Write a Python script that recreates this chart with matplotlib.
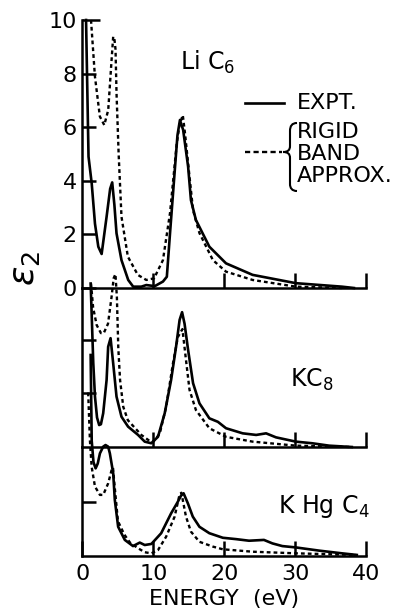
import matplotlib
matplotlib.use('Agg')
import matplotlib.pyplot as plt
from matplotlib.path import Path
from matplotlib.patches import PathPatch
from matplotlib.lines import Line2D

# ---------------- data (energy in eV, epsilon_2) ----------------
lic6_expt_E = [0.5, 0.85, 1.3, 1.76, 2.23, 2.7, 3.4, 3.9, 4.19, 4.5, 4.8, 5.5, 6.45, 7.15, 8.3,
               9.0, 10.2, 11.35, 11.9, 12.35, 13.05, 13.4, 13.75, 14.2, 14.9, 15.3, 16.0, 17.9,
               20.25, 24.0, 30.1, 36.6, 38.3]
lic6_expt_eps = [10.0, 4.9, 3.9, 2.4, 1.54, 1.27, 2.66, 3.7, 3.94, 3.1, 2.04, 1.04, 0.3, 0.05, 0.05,
                 0.11, 0.07, 0.24, 0.42, 2.05, 4.5, 5.7, 6.27, 5.9, 4.53, 3.28, 2.54, 1.54,
                 0.92, 0.49, 0.18, 0.05, 0.0]
lic6_rba_E = [1.2, 1.75, 2.45, 3.07, 3.63, 4.1, 4.33, 4.5, 4.66, 4.8, 5.1, 5.5, 6.4, 7.8, 9.0,
              10.1, 11.35, 12.35, 13.3, 13.7, 14.15, 14.45, 15.1, 15.6, 16.5, 18.4, 20.25, 24.0,
              30.1, 36.6]
lic6_rba_eps = [10.0, 7.9, 6.4, 6.08, 6.64, 8.5, 9.38, 9.3, 8.9, 7.27, 5.0, 2.66, 1.17, 0.49, 0.3,
                0.36, 1.04, 2.8, 5.4, 6.1, 6.45, 5.8, 4.15, 2.9, 2.05, 1.04, 0.61, 0.3,
                0.05, 0.0]

kc8_expt_E = [1.15, 1.29, 1.52, 1.76, 2.05, 2.35, 2.6, 2.92, 3.4, 3.62, 3.96, 4.33, 4.8, 5.5, 6.43,
              7.84, 8.78, 9.7, 10.65, 11.6, 12.5, 13.2, 13.7, 14.05, 14.4, 14.9, 15.6, 16.5, 17.9,
              19.1, 20.25, 22.6, 24.5, 25.9, 27.3, 30.1, 32.4, 34.8, 38.0]
kc8_expt_eps = [6.1, 4.99, 3.13, 1.88, 1.1, 0.82, 0.85, 1.26, 2.5, 3.74, 4.06, 3.12, 1.88, 1.13, 0.76,
                0.45, 0.2, 0.14, 0.38, 1.26, 2.5, 3.74, 4.74, 5.03, 4.6, 3.62, 2.38, 1.63, 1.07,
                0.94, 0.7, 0.51, 0.45, 0.51, 0.36, 0.2, 0.14, 0.05, 0.0]
kc8_rba_E = [1.2, 1.5, 2.0, 2.6, 3.0, 3.6, 4.1, 4.4, 4.65, 4.85, 5.05, 5.3, 5.75, 6.4, 8.3, 9.6,
             10.0, 10.9, 11.8, 12.75, 13.45, 14.1, 14.6, 15.1, 16.0, 17.9, 20.25, 24.0, 30.1, 38.0]
kc8_rba_eps = [6.1, 5.2, 4.55, 4.25, 4.25, 4.6, 5.6, 6.3, 6.45, 5.6, 3.7, 2.5, 1.5, 1.0, 0.45, 0.2,
               0.2, 0.5, 1.5, 3.1, 4.1, 4.4, 3.25, 2.13, 1.38, 0.7, 0.38, 0.2, 0.05, 0.0]

khgc4_expt_E = [1.15, 1.3, 1.55, 1.85, 2.15, 2.46, 2.92, 3.25, 3.62, 3.86, 4.33, 4.56, 5.03, 5.97,
                7.13, 8.08, 8.78, 9.72, 11.1, 12.5, 13.4, 13.9, 14.26, 14.86, 15.56, 16.5, 17.9,
                19.8, 21.65, 23.5, 25.6, 26.8, 28.2, 30.1, 33.4, 36.6, 38.7]
khgc4_expt_eps = [7.5, 4.3, 3.5, 3.27, 3.45, 3.83, 4.08, 4.14, 4.08, 3.83, 3.09, 2.09, 1.09, 0.6,
                  0.37, 0.5, 0.41, 0.45, 0.85, 1.59, 2.0, 2.25, 2.34, 1.97, 1.47, 1.09, 0.85,
                  0.68, 0.63, 0.57, 0.6, 0.47, 0.37, 0.32, 0.2, 0.1, 0.04]
khgc4_rba_E = [0.8, 1.05, 1.29, 1.76, 2.46, 2.92, 3.62, 4.1, 4.3, 4.5, 5.0, 5.9, 6.7, 7.84, 8.78,
               9.72, 10.65, 11.8, 13.0, 13.7, 13.95, 14.6, 15.3, 16.5, 18.4, 19.8, 24.0, 30.1, 38.6]
khgc4_rba_eps = [6.1, 4.3, 3.33, 2.59, 2.28, 2.28, 2.71, 3.2, 3.3, 2.7, 1.3, 0.8, 0.5, 0.29, 0.14,
                 0.1, 0.22, 0.72, 1.47, 2.3, 2.36, 1.47, 0.91, 0.53, 0.35, 0.25, 0.16, 0.1, 0.04]

x_ticks = [0, 10, 20, 30, 40]
y_ticks_top = [0, 2, 4, 6, 8, 10]
panel_names = [r'Li C$_6$', r'KC$_8$', r'K Hg C$_4$']
legend_expt = 'EXPT.'
legend_rba = ['RIGID', 'BAND', 'APPROX.']

# ---------------- layout ----------------
W, H = 406, 611
fig = plt.figure(figsize=(W / 100, H / 100), dpi=100)
fig.patch.set_facecolor('white')


def fx(px):
    return px / W


def fy(py):
    return 1 - py / H


X0, X1 = 82.5, 366.0
SCALE = 26.8  # pixels per unit of epsilon_2
LW_AX = 1.8
LW_SOLID = 1.9
LW_DASH = 1.7
DASH = (0, (1.6, 1.3))
FS_TICK = 16
FS_TEXT = 16


def make_ax(top_py, bot_py):
    ax = fig.add_axes([fx(X0), fy(bot_py), fx(X1) - fx(X0), (bot_py - top_py) / H])
    ax.set_xlim(0, 40)
    ax.set_ylim(0, (bot_py - top_py) / SCALE)
    ax.patch.set_visible(False)
    for s in ['top', 'right']:
        ax.spines[s].set_visible(False)
    for s in ['left', 'bottom']:
        ax.spines[s].set_linewidth(LW_AX)
    ax.tick_params(axis='x', direction='in', length=11, width=LW_AX)
    ax.tick_params(axis='y', direction='in', length=10, width=LW_AX)
    return ax


ax1 = make_ax(20, 288)
ax2 = make_ax(288, 447)
ax3 = make_ax(447, 556)

for ax, (Es, es), (Ed, ed) in [
    (ax1, (lic6_expt_E, lic6_expt_eps), (lic6_rba_E, lic6_rba_eps)),
    (ax2, (kc8_expt_E, kc8_expt_eps), (kc8_rba_E, kc8_rba_eps)),
    (ax3, (khgc4_expt_E, khgc4_expt_eps), (khgc4_rba_E, khgc4_rba_eps)),
]:
    ax.plot(Es, es, color='black', lw=LW_SOLID, clip_on=False, solid_joinstyle='round')
    ax.plot(Ed, ed, color='black', lw=LW_DASH, ls=DASH, clip_on=False)

# ticks
ax1.set_xticks(x_ticks[1:])
ax1.tick_params(axis='x', labelbottom=False)
ax1.set_yticks(y_ticks_top)
ax1.set_yticklabels([str(v) for v in y_ticks_top], fontsize=FS_TICK)
ax1.tick_params(axis='y', pad=4)
ax1.yaxis.get_major_ticks()[-1].tick1line.set_markersize(13)

ax2.set_xticks(x_ticks[1:])
ax2.tick_params(axis='x', labelbottom=False)
ax2.set_yticks([2, 4])
ax2.tick_params(axis='y', labelleft=False)

ax3.set_xticks(x_ticks)
ax3.set_xticklabels([str(v) for v in x_ticks], fontsize=FS_TICK)
ax3.tick_params(axis='x', pad=6)
ax3.set_yticks([2])
ax3.tick_params(axis='y', labelleft=False)
ax3.set_xlabel('ENERGY  (eV)', fontsize=FS_TEXT, labelpad=3)

# y label
fig.text(fx(25), fy(268), r'$\epsilon_2$', rotation=90, fontsize=26,
         ha='center', va='center')

# panel labels
fig.text(fx(180), fy(70), panel_names[0], fontsize=17, va='baseline')
fig.text(fx(290), fy(387), panel_names[1], fontsize=17, va='baseline')
fig.text(fx(278), fy(513), panel_names[2], fontsize=17, va='baseline')

# legend
fig.add_artist(Line2D([fx(245), fx(284)], [fy(103), fy(103)], color='black', lw=LW_SOLID))
fig.text(fx(297), fy(103), legend_expt, fontsize=FS_TEXT, va='center')
fig.add_artist(Line2D([fx(245), fx(282)], [fy(152), fy(152)], color='black', lw=LW_DASH,
                      ls=(0, (2.2, 1.4))))
for txt, py in zip(legend_rba, [132, 154, 176]):
    fig.text(fx(297), fy(py), txt, fontsize=FS_TEXT, va='center')

bp = [(297, 123), (292, 123), (290, 126), (290, 131), (290, 146),
      (290, 150), (288, 152), (283, 152),
      (288, 152), (290, 154), (290, 158), (290, 184),
      (290, 188), (292, 191), (297, 191)]
codes = [Path.MOVETO, Path.CURVE4, Path.CURVE4, Path.CURVE4, Path.LINETO,
         Path.CURVE4, Path.CURVE4, Path.CURVE4,
         Path.CURVE4, Path.CURVE4, Path.CURVE4, Path.LINETO,
         Path.CURVE4, Path.CURVE4, Path.CURVE4]
brace = Path([(fx(a), fy(b)) for a, b in bp], codes)
fig.add_artist(PathPatch(brace, fill=False, lw=1.5, color='black', transform=fig.transFigure))

fig.savefig('out.png', dpi=100)
